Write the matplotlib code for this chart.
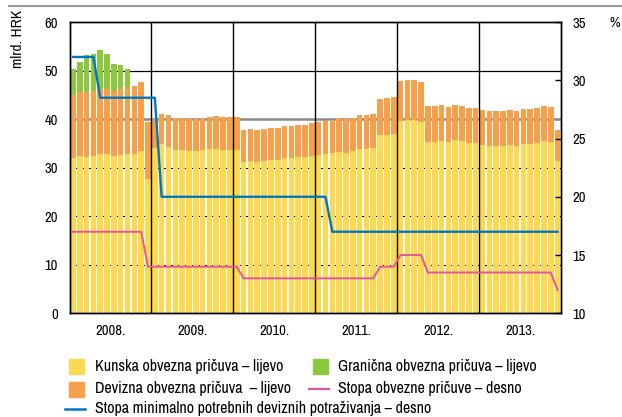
import matplotlib
matplotlib.use('Agg')
import matplotlib.pyplot as plt
from matplotlib.patches import Rectangle
from matplotlib.lines import Line2D
import numpy as np

plt.rcParams['font.family'] = ['Archivo Narrow', 'Roboto Condensed', 'Liberation Sans', 'DejaVu Sans']

# monthly data, Jan 2008 - Dec 2013 (mlrd. HRK)
kunska = [32.0, 32.4, 32.2, 32.4, 32.8, 32.8, 32.4, 32.6, 32.8, 32.8, 33.4, 27.6,
          34.0, 34.8, 34.3, 33.6, 33.6, 33.4, 33.4, 33.6, 33.8, 33.8, 33.6, 33.6,
          33.6, 31.2, 31.4, 31.2, 31.4, 31.6, 31.6, 32.0, 32.0, 32.2, 32.2, 32.4,
          32.6, 32.8, 33.0, 33.2, 33.0, 33.4, 33.8, 33.8, 34.0, 36.7, 36.7, 37.0,
          39.6, 39.8, 39.8, 39.4, 35.3, 35.3, 35.5, 35.3, 35.7, 35.5, 35.1, 35.1,
          34.7, 34.5, 34.5, 34.5, 34.7, 34.5, 34.9, 34.9, 35.1, 35.5, 35.3, 31.4]
devizna = [13.0, 13.2, 13.4, 13.4, 13.5, 13.4, 13.4, 13.6, 13.8, 14.0, 14.2, 11.7,
           6.0, 6.2, 6.5, 6.6, 6.6, 6.6, 6.6, 6.6, 6.7, 6.8, 6.8, 6.8,
           6.8, 6.5, 6.5, 6.5, 6.5, 6.6, 6.6, 6.6, 6.6, 6.6, 6.6, 6.8,
           6.8, 6.8, 6.8, 7.0, 7.0, 6.8, 7.0, 7.0, 7.0, 7.4, 7.6, 7.5,
           8.2, 8.3, 8.3, 8.3, 7.4, 7.4, 7.4, 7.2, 7.2, 7.2, 7.2, 7.2,
           7.2, 7.2, 7.2, 7.2, 7.2, 7.2, 7.2, 7.2, 7.2, 7.2, 7.2, 6.3]
granicna = [5.3, 6.2, 7.6, 7.6, 7.9, 7.2, 5.5, 4.9, 3.7, 0, 0, 0] + [0] * 60

# rates (%)
stopa_devizna = [32, 32, 32, 32, 28.5, 28.5, 28.5, 28.5, 28.5, 28.5, 28.5, 28.5,
                 28.5, 20, 20, 20, 20, 20, 20, 20, 20, 20, 20, 20,
                 20, 20, 20, 20, 20, 20, 20, 20, 20, 20, 20, 20,
                 20, 20, 17, 17, 17, 17, 17, 17, 17, 17, 17, 17,
                 17, 17, 17, 17, 17, 17, 17, 17, 17, 17, 17, 17,
                 17, 17, 17, 17, 17, 17, 17, 17, 17, 17, 17, 17]
stopa_op = [17, 17, 17, 17, 17, 17, 17, 17, 17, 17, 17, 14,
            14, 14, 14, 14, 14, 14, 14, 14, 14, 14, 14, 14,
            14, 13, 13, 13, 13, 13, 13, 13, 13, 13, 13, 13,
            13, 13, 13, 13, 13, 13, 13, 13, 13, 14, 14, 14,
            15, 15, 15, 15, 13.5, 13.5, 13.5, 13.5, 13.5, 13.5, 13.5, 13.5,
            13.5, 13.5, 13.5, 13.5, 13.5, 13.5, 13.5, 13.5, 13.5, 13.5, 13.5, 12]

years = ['2008.', '2009.', '2010.', '2011.', '2012.', '2013.']

c_yellow = '#FDD853'
c_orange = '#F7A04B'
c_green = '#8DC63F'
c_blue = '#0077BE'
c_pink = '#E4559E'

fig = plt.figure(figsize=(6.22, 4.17), dpi=100)
ax = fig.add_axes([69.5 / 622, 1 - 313.3 / 417, (561 - 69.5) / 622, (313.3 - 22) / 417])

x = np.arange(len(kunska))
kun = np.array(kunska)
dev = np.array(devizna)
gra = np.array(granicna)
ax.bar(x, kun, width=0.82, color=c_yellow, zorder=2)
ax.bar(x, dev, width=0.82, bottom=kun, color=c_orange, zorder=2)
ax.bar(x, gra, width=0.82, bottom=kun + dev, color=c_green, zorder=2)

# horizontal grid (behind the bars, shows through the gaps)
for v in [10, 20, 30]:
    ax.axhline(v, color='black', lw=0.8, zorder=1)
ax.axhline(40, color='#8a8a8a', lw=1.8, zorder=1)
ax.axhline(50, color='black', lw=0.9, zorder=1)

# year separators
for k in range(1, 6):
    ax.axvline(12 * k - 0.5, color='black', lw=1, zorder=3)

ax.set_xlim(-0.5, len(kunska) - 0.5)
ax.set_ylim(0, 60)
ax.set_yticks(range(0, 61, 10))
ax.set_xticks([12 * k + 5.5 for k in range(6)])
ax.set_xticklabels(years)
ax.tick_params(axis='x', length=0, pad=8, labelsize=10.5)
ax.tick_params(axis='y', length=0, pad=8.5, labelsize=10.5)
for s in ax.spines.values():
    s.set_linewidth(1)

ax2 = ax.twinx()
ax2.plot(x, stopa_op, color=c_pink, lw=1.4, zorder=4)
ax2.plot(x, stopa_devizna, color=c_blue, lw=1.7, zorder=5)
ax2.set_ylim(10, 35)
ax2.set_yticks(range(10, 36, 5))
ax2.tick_params(axis='y', direction='in', length=4, width=1, pad=8, labelsize=10.5)
for s in ax2.spines.values():
    s.set_linewidth(1)

fig.text(17.5 / 622, 1 - 39 / 417, 'mlrd. HRK', rotation=90, ha='center', va='center', fontsize=11)
fig.text(615 / 622, 1 - 23 / 417, '%', ha='center', va='center', fontsize=10.5)

# top rule
fig.add_artist(Line2D([9 / 622, 1], [1 - 6 / 417] * 2, color='#999999', lw=1.5))

# legend
def fx(px):
    return px / 622

def fy(py):
    return 1 - py / 417

for (x0, y0, col) in [(69, 366, c_yellow), (69, 389, c_orange), (313.3, 366, c_green)]:
    fig.add_artist(Rectangle((fx(x0), fy(y0 + 7.5)), 15 / 622, 15 / 417, color=col,
                             transform=fig.transFigure))
fig.add_artist(Line2D([fx(308.5), fx(328.5)], [fy(388.5)] * 2, color=c_pink, lw=1.6))
fig.add_artist(Line2D([fx(65), fx(85)], [fy(408.5)] * 2, color=c_blue, lw=1.8))

legend_text = [(95, 366, 'Kunska obvezna pričuva – lijevo'),
               (95, 389, 'Devizna obvezna pričuva  – lijevo'),
               (95, 408.5, 'Stopa minimalno potrebnih deviznih potraživanja – desno'),
               (338.3, 366, 'Granična obvezna pričuva – lijevo'),
               (338.3, 389, 'Stopa obvezne pričuve – desno')]
for (x0, y0, t) in legend_text:
    fig.text(fx(x0), fy(y0), t, ha='left', va='center', fontsize=11.5)

fig.savefig('out.png', dpi=100)
